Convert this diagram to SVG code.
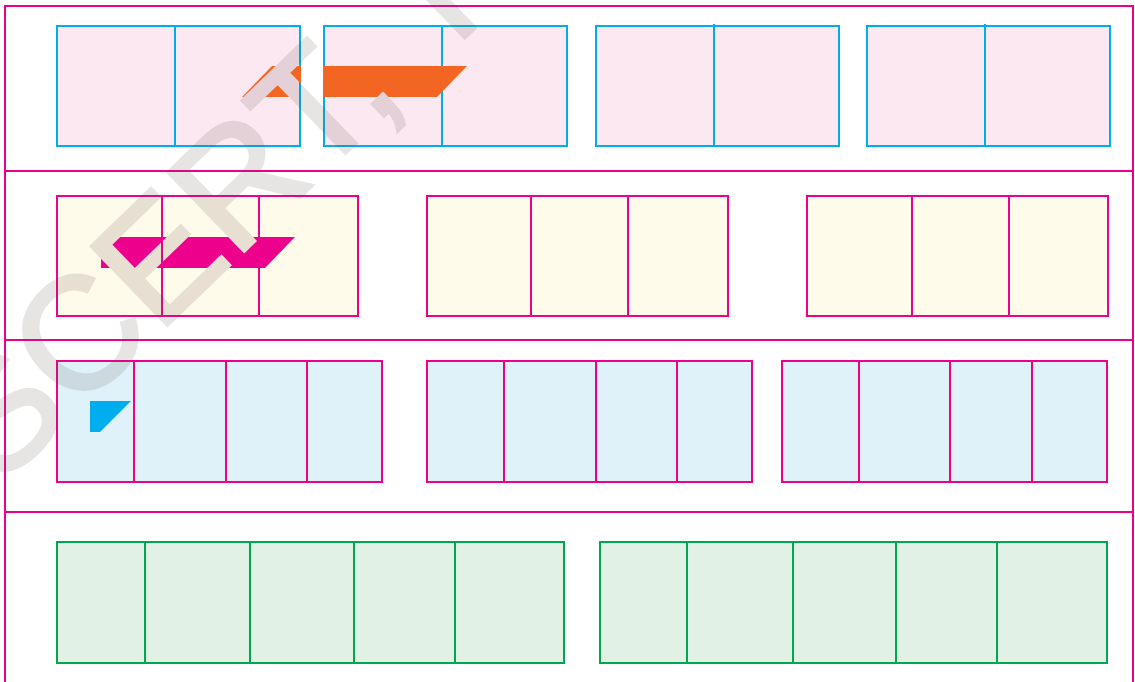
<svg xmlns="http://www.w3.org/2000/svg" width="1135" height="682" viewBox="0 0 1135 682">
<style>
.frame{fill:none;stroke:#EC008C;stroke-width:2}
.sep{stroke:#EC008C;stroke-width:2}
.r1{fill:#FCE8F0;stroke:#00AEEF;stroke-width:2}
.d1{stroke:#00AEEF;stroke-width:2}
.r2{fill:#FFFBEA;stroke:#EC008C;stroke-width:2}
.r3{fill:#E0F2F9;stroke:#EC008C;stroke-width:2}
.dm{stroke:#EC008C;stroke-width:2}
.r4{fill:#E1F1E5;stroke:#00A651;stroke-width:2}
.dg{stroke:#00A651;stroke-width:2}
.wm{font-family:"Liberation Sans",Arial,sans-serif;font-size:160px;stroke-width:3;stroke-linejoin:miter}
</style>
<defs>
<text id="wm" class="wm" transform="translate(-2,489) rotate(-44)">SCERT, TELANGANA</text>
<mask id="knock" maskUnits="userSpaceOnUse" x="0" y="0" width="1135" height="682">
<rect width="1135" height="682" fill="#fff"/>
<use href="#wm" fill="#000" stroke="#000"/>
</mask>
</defs>
<rect width="1135" height="682" fill="#fff"/>
<g id="frame">
<rect class="frame" x="5" y="6" width="1128" height="700"/>
<line class="sep" x1="5" y1="171" x2="1133" y2="171"/>
<line class="sep" x1="5" y1="340" x2="1133" y2="340"/>
<line class="sep" x1="5" y1="512" x2="1133" y2="512"/>
</g>
<g id="row1-box1"><rect class="r1" x="57" y="26" width="243" height="120"/><line class="d1" x1="175" y1="26" x2="175" y2="146"/></g>
<g id="row1-box2"><rect class="r1" x="324" y="26" width="243" height="120"/><line class="d1" x1="442" y1="26" x2="442" y2="146"/></g>
<g id="row1-box3"><rect class="r1" x="596" y="26" width="243" height="120"/><line class="d1" x1="714" y1="24" x2="714" y2="146"/></g>
<g id="row1-box4"><rect class="r1" x="867" y="26" width="243" height="120"/><line class="d1" x1="985" y1="24" x2="985" y2="146"/></g>
<g id="row2-box1"><rect class="r2" x="57" y="196" width="301" height="120"/><line class="dm" x1="162" y1="196" x2="162" y2="316"/><line class="dm" x1="259" y1="196" x2="259" y2="316"/></g>
<g id="row2-box2"><rect class="r2" x="427" y="196" width="301" height="120"/><line class="dm" x1="531" y1="196" x2="531" y2="316"/><line class="dm" x1="628" y1="196" x2="628" y2="316"/></g>
<g id="row2-box3"><rect class="r2" x="807" y="196" width="301" height="120"/><line class="dm" x1="912" y1="196" x2="912" y2="316"/><line class="dm" x1="1009" y1="196" x2="1009" y2="316"/></g>
<g id="row3-box1"><rect class="r3" x="57" y="361" width="325" height="121"/><line class="dm" x1="134" y1="361" x2="134" y2="482"/><line class="dm" x1="226" y1="361" x2="226" y2="482"/><line class="dm" x1="307" y1="361" x2="307" y2="482"/></g>
<g id="row3-box2"><rect class="r3" x="427" y="361" width="325" height="121"/><line class="dm" x1="504" y1="361" x2="504" y2="482"/><line class="dm" x1="596" y1="361" x2="596" y2="482"/><line class="dm" x1="677" y1="361" x2="677" y2="482"/></g>
<g id="row3-box3"><rect class="r3" x="782" y="361" width="325" height="121"/><line class="dm" x1="859" y1="361" x2="859" y2="482"/><line class="dm" x1="950" y1="361" x2="950" y2="482"/><line class="dm" x1="1032" y1="361" x2="1032" y2="482"/></g>
<g id="row4-box1"><rect class="r4" x="57" y="542" width="507" height="121"/><line class="dg" x1="145" y1="542" x2="145" y2="663"/><line class="dg" x1="250" y1="542" x2="250" y2="663"/><line class="dg" x1="354" y1="542" x2="354" y2="663"/><line class="dg" x1="455" y1="542" x2="455" y2="663"/></g>
<g id="row4-box2"><rect class="r4" x="600" y="542" width="507" height="121"/><line class="dg" x1="687" y1="542" x2="687" y2="663"/><line class="dg" x1="793" y1="542" x2="793" y2="663"/><line class="dg" x1="896" y1="542" x2="896" y2="663"/><line class="dg" x1="997" y1="542" x2="997" y2="663"/></g>
<g id="shades" mask="url(#knock)">
<polygon fill="#F26522" points="272,66 301,66 301,97 242,97"/>
<polygon fill="#F26522" points="323,66 467,66 437,97 323,97"/>
<polygon fill="#EC008C" points="101,237 295,237 265,268 101,268"/>
<polygon fill="#00AEEF" points="90,401 131,401 100,432 90,432"/>
</g>
<use id="watermark" href="#wm" fill="#5a4646" stroke="#5a4646" opacity="0.14"/>
</svg>
